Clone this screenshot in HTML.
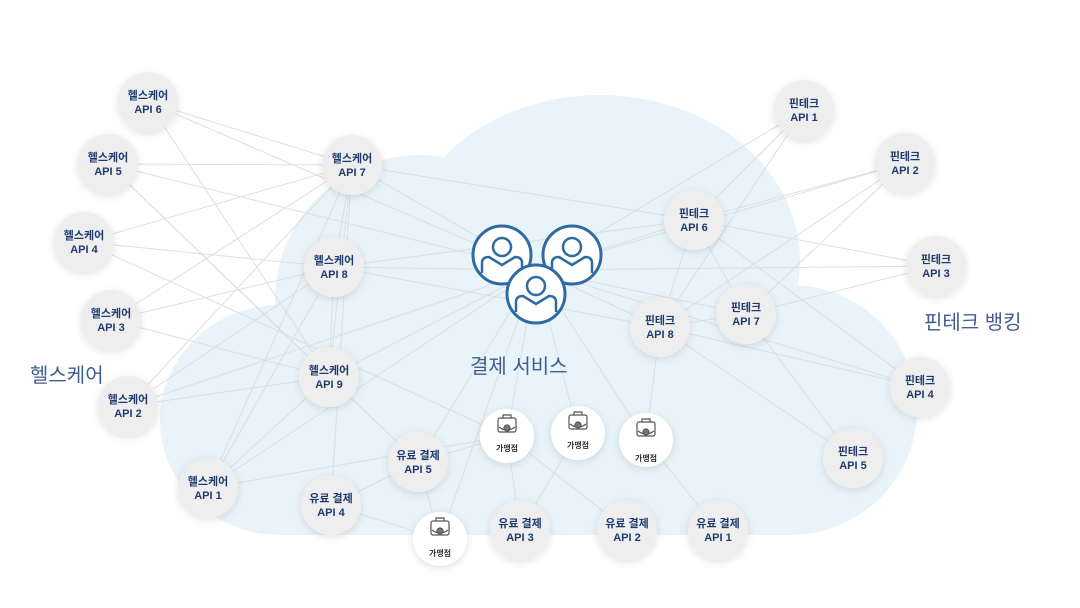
<!DOCTYPE html>
<html><head><meta charset="utf-8"><style>
html,body{margin:0;padding:0;background:#fff;}
svg{display:block;}
.n{font-family:"Liberation Sans","Noto Sans CJK KR",sans-serif;font-weight:bold;font-size:11px;fill:#1f3b6e;text-anchor:middle;}
.s{font-family:"Liberation Sans","Noto Sans CJK KR",sans-serif;font-weight:bold;font-size:8px;fill:#333;text-anchor:middle;}
.big{font-family:"Liberation Sans","Noto Sans CJK KR",sans-serif;font-size:20px;fill:#3f5e8e;}
</style></head><body>
<svg width="1080" height="608" viewBox="0 0 1080 608" xmlns="http://www.w3.org/2000/svg">
<defs>
<filter id="sh" x="-40%" y="-40%" width="180%" height="180%"><feDropShadow dx="0" dy="2" stdDeviation="4" flood-color="#000" flood-opacity="0.12"/></filter>
<g id="st" stroke="#555" stroke-width="1.2" fill="none">
<rect x="-9" y="-18" width="18" height="14" rx="2"/><path d="M-4 -18v-3h8v3"/><path d="M-8 -9q8 6 16 0"/><circle cx="0" cy="-8" r="3" fill="#777"/>
</g>
<g id="pp">
<circle r="29" fill="#fff" stroke="#2f6aa3" stroke-width="3"/>
<circle cy="-8" r="9" fill="none" stroke="#2f6aa3" stroke-width="2.5"/>
<path d="M-20 18v-10q0-6 7-6l13 8 13-8q7 0 7 6v10" fill="none" stroke="#2f6aa3" stroke-width="2.5"/>
</g>
</defs>
<g fill="#e8f4fa">
<ellipse cx="600" cy="260" rx="200" ry="165"/>
<circle cx="420" cy="300" r="145"/>
<ellipse cx="280" cy="420" rx="120" ry="115"/>
<ellipse cx="790" cy="410" rx="127" ry="125"/>
<rect x="280" y="360" width="510" height="175"/>
</g>
<g stroke="#dcdfe2" stroke-width="1" fill="none">
<line x1="148" y1="102" x2="352" y2="165"/><line x1="148" y1="102" x2="329" y2="377"/><line x1="148" y1="102" x2="536" y2="270"/>
<line x1="108" y1="164" x2="352" y2="165"/><line x1="108" y1="164" x2="536" y2="270"/><line x1="108" y1="164" x2="418" y2="462"/><line x1="108" y1="164" x2="329" y2="377"/>
<line x1="84" y1="242" x2="352" y2="165"/><line x1="84" y1="242" x2="334" y2="267"/><line x1="84" y1="242" x2="507" y2="436"/>
<line x1="111" y1="320" x2="352" y2="165"/><line x1="111" y1="320" x2="334" y2="267"/><line x1="111" y1="320" x2="329" y2="377"/>
<line x1="128" y1="406" x2="329" y2="377"/><line x1="128" y1="406" x2="334" y2="267"/><line x1="128" y1="406" x2="352" y2="165"/><line x1="128" y1="406" x2="536" y2="270"/>
<line x1="208" y1="488" x2="329" y2="377"/><line x1="208" y1="488" x2="352" y2="165"/><line x1="208" y1="488" x2="536" y2="270"/><line x1="208" y1="488" x2="334" y2="267"/><line x1="208" y1="488" x2="507" y2="436"/>
<line x1="352" y1="165" x2="536" y2="270"/><line x1="352" y1="165" x2="334" y2="267"/><line x1="352" y1="165" x2="329" y2="377"/><line x1="352" y1="165" x2="331" y2="505"/><line x1="352" y1="165" x2="694" y2="220"/>
<line x1="334" y1="267" x2="536" y2="270"/><line x1="334" y1="267" x2="329" y2="377"/><line x1="334" y1="267" x2="660" y2="327"/><line x1="334" y1="267" x2="694" y2="220"/>
<line x1="329" y1="377" x2="536" y2="270"/><line x1="329" y1="377" x2="418" y2="462"/>
<line x1="536" y1="270" x2="804" y2="110"/><line x1="536" y1="270" x2="694" y2="220"/><line x1="536" y1="270" x2="905" y2="163"/><line x1="536" y1="270" x2="936" y2="266"/><line x1="536" y1="270" x2="660" y2="327"/><line x1="536" y1="270" x2="746" y2="314"/><line x1="536" y1="270" x2="920" y2="387"/>
<line x1="694" y1="220" x2="905" y2="163"/><line x1="694" y1="220" x2="936" y2="266"/><line x1="694" y1="220" x2="920" y2="387"/><line x1="694" y1="220" x2="746" y2="314"/><line x1="694" y1="220" x2="660" y2="327"/><line x1="694" y1="220" x2="804" y2="110"/>
<line x1="746" y1="314" x2="905" y2="163"/><line x1="746" y1="314" x2="936" y2="266"/><line x1="746" y1="314" x2="853" y2="458"/><line x1="746" y1="314" x2="660" y2="327"/>
<line x1="660" y1="327" x2="920" y2="387"/><line x1="660" y1="327" x2="853" y2="458"/><line x1="660" y1="327" x2="905" y2="163"/><line x1="660" y1="327" x2="804" y2="110"/><line x1="660" y1="327" x2="646" y2="440"/>
<line x1="507" y1="436" x2="536" y2="270"/><line x1="578" y1="433" x2="536" y2="270"/><line x1="646" y1="440" x2="536" y2="270"/>
<line x1="507" y1="436" x2="418" y2="462"/><line x1="507" y1="436" x2="520" y2="530"/><line x1="507" y1="436" x2="627" y2="530"/><line x1="578" y1="433" x2="520" y2="530"/><line x1="646" y1="440" x2="718" y2="530"/>
<line x1="440" y1="539" x2="331" y2="505"/><line x1="440" y1="539" x2="418" y2="462"/><line x1="440" y1="539" x2="536" y2="270"/><line x1="331" y1="505" x2="418" y2="462"/><line x1="418" y1="462" x2="536" y2="270"/>
</g>
<g filter="url(#sh)" fill="#eeeeef">
<circle cx="148" cy="102" r="30"/><circle cx="108" cy="164" r="30"/><circle cx="84" cy="242" r="30"/><circle cx="111" cy="320" r="30"/><circle cx="128" cy="406" r="30"/><circle cx="208" cy="488" r="30"/><circle cx="352" cy="165" r="30"/><circle cx="334" cy="267" r="30"/><circle cx="329" cy="377" r="30"/>
<circle cx="804" cy="110" r="30"/><circle cx="905" cy="163" r="30"/><circle cx="936" cy="266" r="30"/><circle cx="920" cy="387" r="30"/><circle cx="853" cy="458" r="30"/><circle cx="694" cy="220" r="30"/><circle cx="746" cy="314" r="30"/><circle cx="660" cy="327" r="30"/>
<circle cx="418" cy="462" r="30"/><circle cx="331" cy="505" r="30"/><circle cx="520" cy="530" r="30"/><circle cx="627" cy="530" r="30"/><circle cx="718" cy="530" r="30"/>
<circle cx="507" cy="436" r="27" fill="#fff"/><circle cx="578" cy="433" r="27" fill="#fff"/><circle cx="646" cy="440" r="27" fill="#fff"/><circle cx="440" cy="539" r="27" fill="#fff"/>
</g>
<text x="148" y="99" class="n">헬스케어</text><text x="148" y="113" class="n">API 6</text>
<text x="108" y="161" class="n">헬스케어</text><text x="108" y="175" class="n">API 5</text>
<text x="84" y="239" class="n">헬스케어</text><text x="84" y="253" class="n">API 4</text>
<text x="111" y="317" class="n">헬스케어</text><text x="111" y="331" class="n">API 3</text>
<text x="128" y="403" class="n">헬스케어</text><text x="128" y="417" class="n">API 2</text>
<text x="208" y="485" class="n">헬스케어</text><text x="208" y="499" class="n">API 1</text>
<text x="352" y="162" class="n">헬스케어</text><text x="352" y="176" class="n">API 7</text>
<text x="334" y="264" class="n">헬스케어</text><text x="334" y="278" class="n">API 8</text>
<text x="329" y="374" class="n">헬스케어</text><text x="329" y="388" class="n">API 9</text>
<text x="804" y="107" class="n">핀테크</text><text x="804" y="121" class="n">API 1</text>
<text x="905" y="160" class="n">핀테크</text><text x="905" y="174" class="n">API 2</text>
<text x="936" y="263" class="n">핀테크</text><text x="936" y="277" class="n">API 3</text>
<text x="920" y="384" class="n">핀테크</text><text x="920" y="398" class="n">API 4</text>
<text x="853" y="455" class="n">핀테크</text><text x="853" y="469" class="n">API 5</text>
<text x="694" y="217" class="n">핀테크</text><text x="694" y="231" class="n">API 6</text>
<text x="746" y="311" class="n">핀테크</text><text x="746" y="325" class="n">API 7</text>
<text x="660" y="324" class="n">핀테크</text><text x="660" y="338" class="n">API 8</text>
<text x="418" y="459" class="n">유료 결제</text><text x="418" y="473" class="n">API 5</text>
<text x="331" y="502" class="n">유료 결제</text><text x="331" y="516" class="n">API 4</text>
<text x="520" y="527" class="n">유료 결제</text><text x="520" y="541" class="n">API 3</text>
<text x="627" y="527" class="n">유료 결제</text><text x="627" y="541" class="n">API 2</text>
<text x="718" y="527" class="n">유료 결제</text><text x="718" y="541" class="n">API 1</text>
<use href="#st" x="507" y="436"/><text x="507" y="451" class="s">가맹점</text>
<use href="#st" x="578" y="433"/><text x="578" y="448" class="s">가맹점</text>
<use href="#st" x="646" y="440"/><text x="646" y="461" class="s">가맹점</text>
<use href="#st" x="440" y="539"/><text x="440" y="556" class="s">가맹점</text>
<use href="#pp" x="502" y="255"/>
<use href="#pp" x="572" y="255"/>
<use href="#pp" x="536" y="294"/>
<text x="30" y="382" class="big">헬스케어</text>
<text x="924" y="329" class="big">핀테크 뱅킹</text>
<text x="470" y="373" class="big">결제 서비스</text>
</svg>
</body></html>
